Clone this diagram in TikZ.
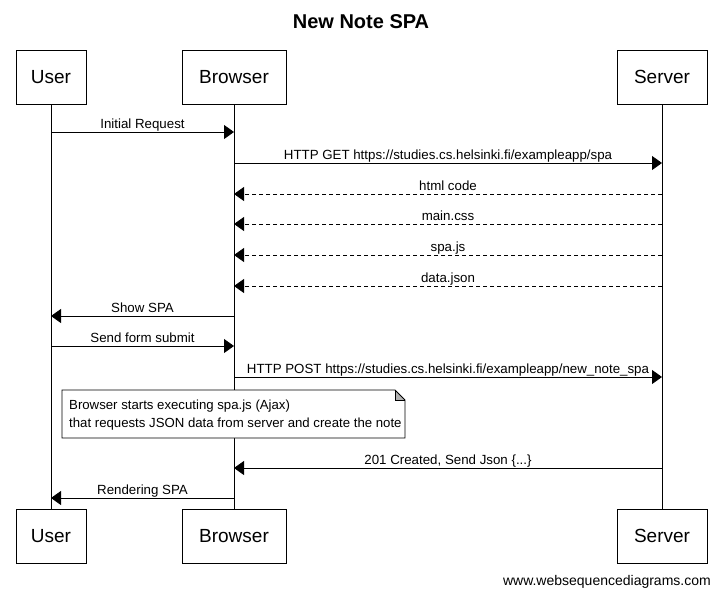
\documentclass[tikz,border=0pt]{standalone}
\usepackage{fontspec}
\setmainfont{Liberation Sans}
\usetikzlibrary{arrows.meta}
\begin{document}
\begin{tikzpicture}[x=1pt,y=-1pt,
  actor/.style={draw, line width=0.8pt, minimum height=54pt, inner sep=0pt,
    font=\fontsize{19}{22}\selectfont},
  msg/.style={-{Triangle[length=10pt,width=14pt]}, line width=0.8pt},
  reply/.style={msg, dash pattern=on 4pt off 3pt},
  lbl/.style={font=\fontsize{13.3}{15}\selectfont, inner sep=0pt, anchor=base, yshift=3.5pt},
  notetext/.style={font=\fontsize{13.2}{17.5}\selectfont, align=left, inner sep=0pt, anchor=north west}
]
\useasboundingbox (0,0) rectangle (721,595);

\node[font=\bfseries\fontsize{20}{24}\selectfont] (title) at (361,22) {New Note SPA};

\node[actor, minimum width=70pt] (ut) at (51,77) {User};
\node[actor, minimum width=104pt] (bt) at (234,77) {Browser};
\node[actor, minimum width=90pt] (st) at (662,77) {Server};
\node[actor, minimum width=70pt] (ub) at (51,536) {User};
\node[actor, minimum width=104pt] (bb) at (234,536) {Browser};
\node[actor, minimum width=90pt] (sb) at (662,536) {Server};

\draw[line width=0.8pt] (ut.south) -- (ub.north);
\draw[line width=0.8pt] (bt.south) -- (bb.north);
\draw[line width=0.8pt] (st.south) -- (sb.north);

% messages
\draw[msg] (ut.south |- 0,132) -- (bt.south |- 0,132)
  node[lbl, midway] {Initial Request};
\draw[msg] (bt.south |- 0,163) -- (st.south |- 0,163)
  node[lbl, midway] {HTTP GET https://studies.cs.helsinki.fi/exampleapp/spa};
\draw[reply] (st.south |- 0,194) -- (bt.south |- 0,194)
  node[lbl, midway] {html code};
\draw[reply] (st.south |- 0,224) -- (bt.south |- 0,224)
  node[lbl, midway] {main.css};
\draw[reply] (st.south |- 0,255) -- (bt.south |- 0,255)
  node[lbl, midway] {spa.js};
\draw[reply] (st.south |- 0,286) -- (bt.south |- 0,286)
  node[lbl, midway] {data.json};
\draw[msg] (bt.south |- 0,316) -- (ut.south |- 0,316)
  node[lbl, midway] {Show SPA};
\draw[msg] (ut.south |- 0,346) -- (bt.south |- 0,346)
  node[lbl, midway] {Send form submit};
\draw[msg] (bt.south |- 0,377) -- (st.south |- 0,377)
  node[lbl, midway] {HTTP POST https://studies.cs.helsinki.fi/exampleapp/new\_note\_spa};

% note
\fill[white] (62,390) -- (395,390) -- (405,400) -- (405,438) -- (62,438) -- cycle;
\fill[gray!60] (395,390) -- (395,400) -- (405,400) -- cycle;
\draw[line width=0.8pt] (62,390) -- (395,390) -- (405,400) -- (405,438) -- (62,438) -- cycle;
\draw[line width=0.8pt] (395,390) -- (395,400) -- (405,400);
\node[notetext] (note) at (69,400) {Browser starts executing spa.js (Ajax)\\that requests JSON data from server and create the note};

\draw[msg] (st.south |- 0,468) -- (bt.south |- 0,468)
  node[lbl, midway] {201 Created, Send Json \{...\}};
\draw[msg] (bt.south |- 0,498) -- (ut.south |- 0,498)
  node[lbl, midway] {Rendering SPA};

\node[font=\fontsize{14}{16}\selectfont, anchor=base east, inner sep=0pt] (foot) at (711,585) {www.websequencediagrams.com};
\end{tikzpicture}
\end{document}
